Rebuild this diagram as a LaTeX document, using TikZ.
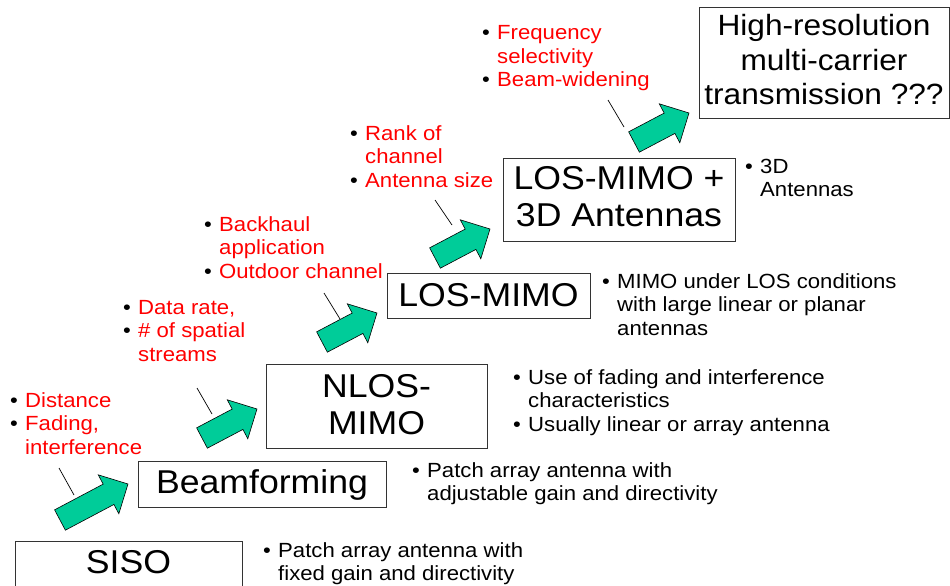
\documentclass[tikz,border=0pt]{standalone}
\usepackage{fontspec}
\setmainfont{Liberation Sans}[FakeStretch=1.08]
\usetikzlibrary{calc}
\definecolor{arrowgreen}{HTML}{00CC99}
\definecolor{boxline}{HTML}{333333}
\definecolor{txtred}{HTML}{FF0000}
\newcommand\bu{\makebox[15pt][l]{\color{black}\textbullet}}
\newcommand\rd[1]{\textcolor{txtred}{#1}}
\newcommand\garrow[2]{%
  \path ($(#2)!22pt!(#1)$) coordinate (hb);
  \filldraw[arrowshape]
    ($(#1)!11.5pt!90:(#2)$) -- ($(hb)!11.5pt!90:(#2)$) -- ($(hb)!22pt!90:(#2)$) -- (#2)
    -- ($(hb)!22pt!-90:(#2)$) -- ($(hb)!11.5pt!-90:(#2)$) -- ($(#1)!11.5pt!-90:(#2)$) -- cycle;}
\begin{document}
\begin{tikzpicture}[x=1pt,y=-1pt,
  box/.style={draw=boxline, line width=1pt, inner sep=0pt, align=center, font=\fontsize{33}{37}\selectfont},
  small/.style={anchor=base west, inner sep=0pt, font=\fontsize{20.5}{23.5}\selectfont},
  leader/.style={draw=black, line width=0.7pt},
  arrowshape/.style={fill=arrowgreen, draw=black, line width=0.6pt}]
\useasboundingbox (0,0) rectangle (950,586);

% boxes
\node[box, anchor=base, text height=32, text depth=40, minimum width=227] (siso) at (128.5,573) {SISO};
\node[box, anchor=base, text height=32, text depth=14, minimum width=248] (beam) at (262,493) {Beamforming};
\node[box, text depth=4, minimum width=221, minimum height=84] (nlos) at (376.5,406) {NLOS-\\MIMO};
\node[box, anchor=base, text height=33, text depth=12, minimum width=203] (los) at (488.5,306) {LOS-MIMO};
\node[box, text depth=6, minimum width=232, minimum height=83] (los3d) at (619,199.5) {LOS-MIMO +\\3D Antennas};
\node[box, font=\fontsize{29.3}{34.5}\selectfont, text depth=7, minimum width=250, minimum height=110] (hires) at (824,63) {High-resolution\\multi-carrier\\transmission ???};

% arrows
\coordinate (t1) at (60,520);  \coordinate (h1) at (128,484);
\coordinate (t2) at (202,438); \coordinate (h2) at (257,409);
\coordinate (t3) at (322,342); \coordinate (h3) at (377,313);
\coordinate (t4) at (435,258); \coordinate (h4) at (490,229);
\coordinate (t5) at (634,142); \coordinate (h5) at (689,113);
\garrow{t1}{h1}
\garrow{t2}{h2}
\garrow{t3}{h3}
\garrow{t4}{h4}
\garrow{t5}{h5}

% leader lines
\coordinate (la1) at (59,468);  \coordinate (lb1) at (74,495);
\coordinate (la2) at (197,388); \coordinate (lb2) at (212,414);
\coordinate (la3) at (324,293); \coordinate (lb3) at (340,319);
\coordinate (la4) at (435,200); \coordinate (lb4) at (452,225);
\coordinate (la5) at (608,100); \coordinate (lb5) at (624,127);
\draw[leader] (la1) -- (lb1);
\draw[leader] (la2) -- (lb2);
\draw[leader] (la3) -- (lb3);
\draw[leader] (la4) -- (lb4);
\draw[leader] (la5) -- (lb5);

% red lists
\node[small] (ra) at (10,407) {\begin{tabular}[t]{@{}l@{}l@{}}\bu&\rd{Distance}\\\bu&\rd{Fading,}\\&\rd{interference}\end{tabular}};
\node[small] (rb) at (123,314) {\begin{tabular}[t]{@{}l@{}l@{}}\bu&\rd{Data rate,}\\\bu&\rd{\# of spatial}\\&\rd{streams}\end{tabular}};
\node[small] (rc) at (204,231) {\begin{tabular}[t]{@{}l@{}l@{}}\bu&\rd{Backhaul}\\&\rd{application}\\\bu&\rd{Outdoor channel}\end{tabular}};
\node[small] (rd) at (350,140) {\begin{tabular}[t]{@{}l@{}l@{}}\bu&\rd{Rank of}\\&\rd{channel}\\\bu&\rd{Antenna size}\end{tabular}};
\node[small] (re) at (482,40) {\begin{tabular}[t]{@{}l@{}l@{}}\bu&\rd{Frequency}\\&\rd{selectivity}\\\bu&\rd{Beam-widening}\end{tabular}};

% black lists
\node[small] (ba) at (263,557) {\begin{tabular}[t]{@{}l@{}l@{}}\bu&Patch array antenna with\\&fixed gain and directivity\end{tabular}};
\node[small] (bb) at (412,477) {\begin{tabular}[t]{@{}l@{}l@{}}\bu&Patch array antenna with\\&adjustable gain and directivity\end{tabular}};
\node[small] (bc) at (513,384) {\begin{tabular}[t]{@{}l@{}l@{}}\bu&Use of fading and interference\\&characteristics\\\bu&Usually linear or array antenna\end{tabular}};
\node[small] (bd) at (602,288) {\begin{tabular}[t]{@{}l@{}l@{}}\bu&MIMO under LOS conditions\\&with large linear or planar\\&antennas\end{tabular}};
\node[small] (be) at (745,173) {\begin{tabular}[t]{@{}l@{}l@{}}\bu&3D\\&Antennas\end{tabular}};
\end{tikzpicture}
\end{document}
